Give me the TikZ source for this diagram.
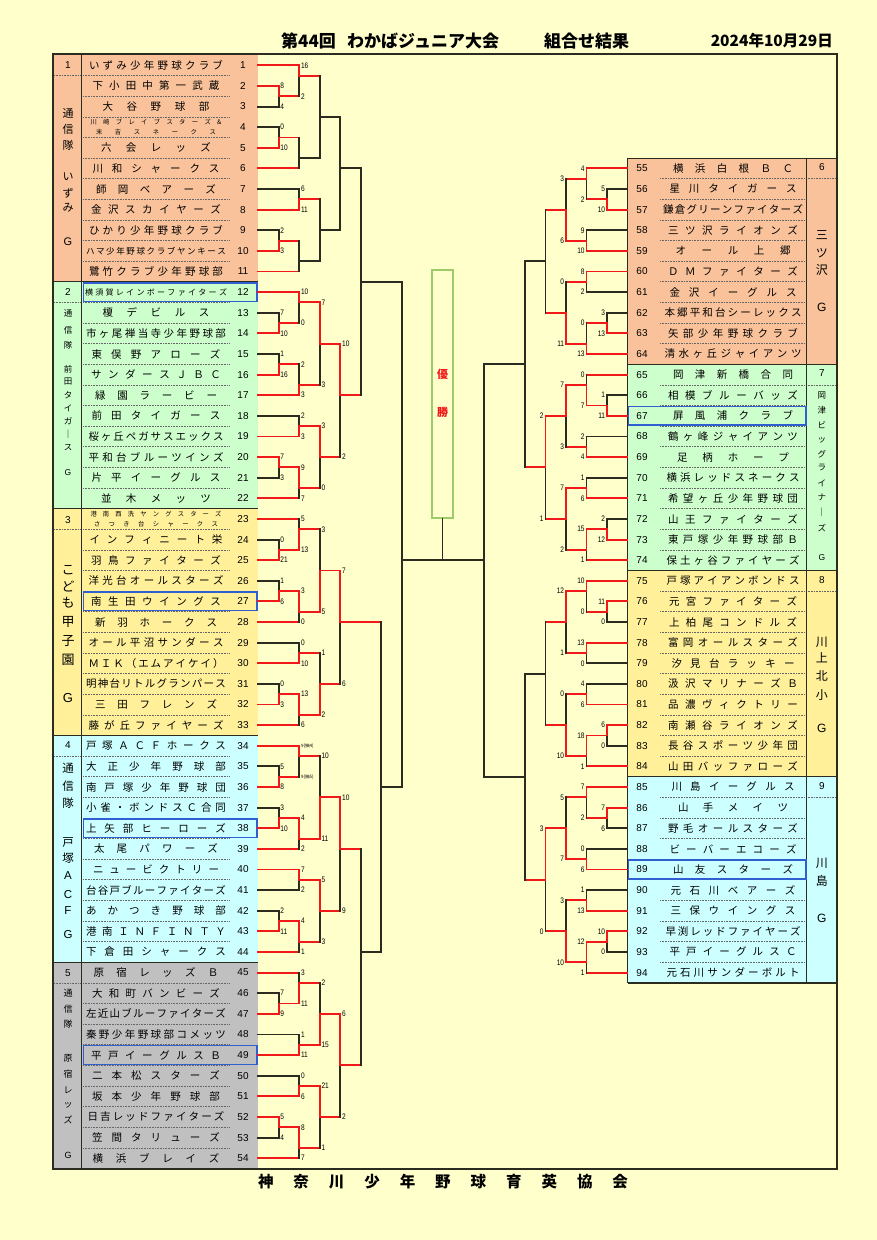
\documentclass[tikz,border=0pt]{standalone}
\usepackage{fontspec}
\setmainfont{Noto Sans CJK JP}
\newfontfamily\lat{Liberation Sans}
\newfontfamily\scf{Liberation Sans}[FakeStretch=0.82]
\definecolor{bg}{HTML}{FFFFCC}
\definecolor{peach}{HTML}{F9C29A}
\definecolor{mint}{HTML}{CCFFCC}
\definecolor{yel}{HTML}{FFF099}
\definecolor{cyn}{HTML}{CCFFFF}
\definecolor{gry}{HTML}{C0C0C0}
\definecolor{wred}{HTML}{F01818}
\definecolor{dk}{HTML}{2B2B20}
\definecolor{hbl}{HTML}{2F5FD0}
\definecolor{boxg}{HTML}{9BCB6B}
\newcounter{lb}
\makeatletter
\newcommand\dist[2]{\makebox[#1][c]{\dist@a#2\dist@end}}
\def\dist@end{\dist@end}
\def\dist@a#1#2{#1\ifx#2\dist@end\else\hfill\expandafter\dist@a\expandafter#2\fi}
\makeatother
\newcommand\Y[1]{55+10.31*(#1)}
% match core: ktop kbot kout stop sbot w anchor shift
\newcommand\Mcore[8]{%
 \pgfmathsetmacro\ya{55+10.31*(#1)}%
 \pgfmathsetmacro\yb{55+10.31*(#2)}%
 \pgfmathsetmacro\yo{55+10.31*(#3)}%
 \pgfmathsetmacro\xs{\xa+(#8)}%
 \if#6t\draw[bl](\xa,\yo)--(\xa,\yb);\draw[rl](\xa,\ya)--(\xa,\yo);\draw[rl](\xa,\yo)--(\xb,\yo);\fi
 \if#6b\draw[bl](\xa,\ya)--(\xa,\yo);\draw[rl](\xa,\yo)--(\xa,\yb);\draw[rl](\xa,\yo)--(\xb,\yo);\fi
 \if#6n\draw[bl](\xa,\ya)--(\xa,\yb);\draw[bl](\xa,\yo)--(\xb,\yo);\fi
 \stepcounter{lb}\node[sc,anchor=#7] (s\thelb) at (\xs,\ya) {#4};%
 \stepcounter{lb}\node[sc,anchor=#7] (s\thelb) at (\xs,\yb) {#5};%
}
\newcommand\LM[8]{\pgfmathsetmacro\xa{258+20.55*(#1)}\pgfmathsetmacro\xb{258+20.55*(#5)}\Mcore{#2}{#3}{#4}{#6}{#7}{#8}{west}{1.4}}
\newcommand\RM[8]{\pgfmathsetmacro\xa{627.5-20.5*(#1)}\pgfmathsetmacro\xb{627.5-20.5*(#5)}\Mcore{#2}{#3}{#4}{#6}{#7}{#8}{east}{-1.4}}
% team lines
\newcommand\LT[3]{\pgfmathsetmacro\xa{258+20.55*(#2)}\pgfmathsetmacro\ya{55+10.31*(2*#1-1)}\draw[#3](258,\ya)--(\xa,\ya);}
\newcommand\RT[3]{\pgfmathsetmacro\xa{627.5-20.5*(#2)}\pgfmathsetmacro\ya{55+10.31*(11+2*(#1-55))}\draw[#3](627.5,\ya)--(\xa,\ya);}
% team names
\newcommand\LN[4][10.5]{\pgfmathsetmacro\ya{55+10.31*(2*#2-1)}%
 \node[nm,font=\fontsize{#1}{#1}\selectfont] (n#2) at (156,\ya) {\dist{#3pt}{#4}};%
 \node[num] (k#2) at (243,\ya) {#2};}
\newcommand\RN[4][10.5]{\pgfmathsetmacro\ya{55+10.31*(11+2*(#2-55))}%
 \node[nm,font=\fontsize{#1}{#1}\selectfont] (n#2) at (733,\ya) {\dist{#3pt}{#4}};%
 \node[num] (k#2) at (642,\ya) {#2};}
\begin{document}
\begin{tikzpicture}[x=1pt,y=-1pt,
 rl/.style={draw=wred,line width=1.9pt,line cap=rect},
 bl/.style={draw=dk,line width=1.9pt,line cap=rect},
 sc/.style={font=\scf\fontsize{8}{8}\selectfont,inner sep=0.3pt},
 nm/.style={inner sep=0pt},
 num/.style={font=\lat\fontsize{10}{10}\selectfont,inner sep=0pt},
 gl/.style={inner sep=0pt},
 dotl/.style={draw=black!60,line width=0.7pt,dash pattern=on 0.7pt off 0.9pt},
 sep/.style={draw=dk,line width=1.2pt},
 hb/.style={draw=hbl,line width=1.4pt},
 ttl/.style={font=\fontsize{17}{17}\selectfont\bfseries,inner sep=0pt}]
\useasboundingbox (0,0) rectangle (877,1240);
\fill[bg] (0,0) rectangle (877,1240);
% ---------- fills
\fill[peach] (53,55) rectangle (258,{\Y{22}});
\fill[mint] (53,{\Y{22}}) rectangle (258,{\Y{44}});
\fill[yel] (53,{\Y{44}}) rectangle (258,{\Y{66}});
\fill[cyn] (53,{\Y{66}}) rectangle (258,{\Y{88}});
\fill[gry] (53,{\Y{88}}) rectangle (258,{\Y{108}});
\fill[peach] (627.5,{\Y{10}}) rectangle (837,{\Y{30}});
\fill[mint] (627.5,{\Y{30}}) rectangle (837,{\Y{50}});
\fill[yel] (627.5,{\Y{50}}) rectangle (837,{\Y{70}});
\fill[cyn] (627.5,{\Y{70}}) rectangle (837,{\Y{90}});
% ---------- dotted row lines
\foreach \i in {1,...,10,12,13,...,21,23,24,...,32,34,35,...,43,45,46,...,53}
  \draw[dotl] (83,{\Y{2*\i}}) -- (230,{\Y{2*\i}});
\foreach \i in {55,...,63,65,66,...,73,75,76,...,83,85,86,...,93}
  \draw[dotl] (660,{\Y{12+2*(\i-55)}}) -- (805,{\Y{12+2*(\i-55)}});
\foreach \k in {2,24,46,68,90}
  \draw[dotl] (54,{\Y{\k}}) -- (81,{\Y{\k}});
\foreach \k in {12,32,52,72}
  \draw[dotl] (807.5,{\Y{\k}}) -- (836,{\Y{\k}});
% ---------- separators and frame
\foreach \k in {22,44,66,88}
  \draw[sep] (53,{\Y{\k}}) -- (258,{\Y{\k}});
\foreach \k in {10,30,50,70,90}
  \draw[sep] (627.5,{\Y{\k}}) -- (837,{\Y{\k}});
\draw[sep] (81.5,55) -- (81.5,{\Y{108}});
\draw[sep] (627.5,{\Y{10}}) -- (627.5,{\Y{90}});
\draw[sep] (806.7,{\Y{10}}) -- (806.7,{\Y{90}});
\draw[sep] (53,54) rectangle (837,1169);
% ---------- highlight boxes
\foreach \i in {12,27,38,49}
  \draw[hb] (83.5,{\Y{2*\i-2}+1}) rectangle (257,{\Y{2*\i}-1});
\foreach \i in {67,89}
  \draw[hb] (628.5,{\Y{10+2*(\i-55)}+1}) rectangle (806,{\Y{12+2*(\i-55)}-1});
% ---------- titles
\node[ttl,anchor=west] (t1) at (281,41) {第44回};
\node[ttl,anchor=west] (t2) at (347,41) {わかばジュニア大会};
\node[ttl,anchor=west] (t3) at (544,41) {組合せ結果};
\node[ttl,font=\fontsize{15.5}{15.5}\selectfont\bfseries,anchor=east] (t4) at (833,41) {2024年10月29日};
\node[ttl,font=\fontsize{15.5}{15.5}\selectfont\bfseries] (t5) at (443,1182) {\dist{370pt}{神奈川少年野球育英協会}};
% ---------- group labels
\foreach \n/\y in {1/65.3,2/291.9,3/519.6,4/745.5,5/972.6}
  \node[num] (gn\n) at (68,\y) {\n};
\foreach \n/\y in {6/167.3,7/373.5,8/579.6,9/785.8}
  \node[num] (gn\n) at (821.8,\y) {\n};
\foreach \c/\y [count=\m] in {通/113,信/129,隊/145,い/177,ず/193,み/208,\lat G/242}
  \node[gl,font=\fontsize{11}{11}\selectfont] (ga\m) at (68,\y) {\c};
\foreach \c/\y [count=\m] in {通/313,信/330,隊/345,前/369,田/382,タ/395,イ/408,ガ/421,｜/434,ス/448,\lat G/473}
  \node[gl,font=\fontsize{8.5}{8.5}\selectfont] (gb\m) at (68,\y) {\c};
\foreach \c/\y [count=\m] in {こ/570,ど/586,も/603,甲/622,子/641,園/660,\lat G/698}
  \node[gl,font=\fontsize{13}{13}\selectfont] (gc\m) at (68,\y) {\c};
\foreach \c/\y [count=\m] in {通/768,信/786,隊/803,戸/842,塚/858,\lat A/876,\lat C/895,\lat F/911,\lat G/935}
  \node[gl,font=\fontsize{11.5}{11.5}\selectfont] (gd\m) at (68,\y) {\c};
\foreach \c/\y [count=\m] in {通/993,信/1009,隊/1024,原/1058,宿/1074,レ/1090,ッ/1105,ズ/1120,\lat G/1155}
  \node[gl,font=\fontsize{9}{9}\selectfont] (ge\m) at (68,\y) {\c};
\foreach \c/\y [count=\m] in {三/235,ツ/253,沢/270,\lat G/307}
  \node[gl,font=\fontsize{12}{12}\selectfont] (gf\m) at (821.8,\y) {\c};
\foreach \c/\y [count=\m] in {岡/395,津/410,ビ/425,ッ/440,グ/454,ラ/468,イ/483,ナ/497,｜/512,ズ/528,\lat G/558}
  \node[gl,font=\fontsize{8.5}{8.5}\selectfont] (gg\m) at (821.8,\y) {\c};
\foreach \c/\y [count=\m] in {川/642,上/658,北/676,小/695,\lat G/728}
  \node[gl,font=\fontsize{12}{12}\selectfont] (gh\m) at (821.8,\y) {\c};
\foreach \c/\y [count=\m] in {川/863,島/881,\lat G/918}
  \node[gl,font=\fontsize{12}{12}\selectfont] (gi\m) at (821.8,\y) {\c};
% ---------- team names left
\LN{1}{134}{いずみ少年野球クラブ}
\LN{2}{127}{下小田中第一武蔵}
\LN{3}{107}{大谷野球部}
\node[nm,font=\fontsize{6.3}{9.5}\selectfont,align=center] (n4) at (156,{\Y{7}}) {\dist{131pt}{川崎ブレイブスターズ\&}\\\dist{120pt}{末吉スネークス}};
\node[num] (k4) at (243,{\Y{7}}) {4};
\LN{5}{110}{六会レッズ}
\LN{6}{127}{川和シャークス}
\LN{7}{120}{師岡ベアーズ}
\LN{8}{130}{金沢スカイヤーズ}
\LN{9}{134}{ひかり少年野球クラブ}
\LN[8.5]{10}{140}{ハマ少年野球クラブヤンキース}
\LN{11}{134}{鷺竹クラブ少年野球部}
\LN[8]{12}{142}{横須賀レインボーファイターズ}
\LN{13}{107}{榎デビルス}
\LN{14}{140}{市ヶ尾禅当寺少年野球部}
\LN{15}{129}{東俣野アローズ}
\LN{16}{130}{サンダースＪＢＣ}
\LN{17}{122}{緑園ラービー}
\LN{18}{129}{前田タイガース}
\LN{19}{135}{桜ヶ丘ペガサスエックス}
\LN{20}{135}{平和台ブルーツインズ}
\LN{21}{129}{片平イーグルス}
\LN{22}{110}{並木メッツ}
\node[nm,font=\fontsize{6.3}{9.5}\selectfont,align=center] (n23) at (156,{\Y{45}}) {\dist{131pt}{港南西洗ヤングスターズ}\\\dist{124pt}{さつき台シャークス}};
\node[num] (k23) at (243,{\Y{45}}) {23};
\LN{24}{133}{インフィニート栄}
\LN{25}{130}{羽鳥ファイターズ}
\LN{26}{135}{洋光台オールスターズ}
\LN{27}{130}{南生田ウイングス}
\LN{28}{122}{新羽ホークス}
\LN{29}{135}{オール平沼サンダース}
\LN{30}{135}{ＭＩＫ（エムアイケイ）}
\LN{31}{140}{明神台リトルグランパース}
\LN{32}{122}{三田フレンズ}
\LN{33}{135}{藤が丘ファイヤーズ}
\LN{34}{140}{戸塚ＡＣＦホークス}
\LN{35}{140}{大正少年野球部}
\LN{36}{140}{南戸塚少年野球団}
\LN{37}{140}{小雀・ボンドスＣ合同}
\LN{38}{140}{上矢部ヒーローズ}
\LN{39}{124}{太尾パワーズ}
\LN{40}{126}{ニュービクトリー}
\LN{41}{140}{台谷戸ブルーファイターズ}
\LN{42}{140}{あかつき野球部}
\LN{43}{140}{港南ＩＮＦＩＮＴＹ}
\LN{44}{140}{下倉田シャークス}
\LN{45}{125}{原宿レッズＢ}
\LN{46}{128}{大和町バンビーズ}
\LN{47}{140}{左近山ブルーファイターズ}
\LN{48}{140}{秦野少年野球部コメッツ}
\LN{49}{130}{平戸イーグルスＢ}
\LN{50}{128}{二本松スターズ}
\LN{51}{128}{坂本少年野球部}
\LN{52}{137}{日吉レッドファイターズ}
\LN{53}{128}{笠間タリューズ}
\LN{54}{127}{横浜ブレイズ}
% ---------- team names right
\RN{55}{120}{横浜白根ＢＣ}
\RN{56}{127}{星川タイガース}
\RN{57}{140}{鎌倉グリーンファイターズ}
\RN{58}{130}{三ツ沢ライオンズ}
\RN{59}{115}{オール上郷}
\RN{60}{130}{ＤＭファイターズ}
\RN{61}{127}{金沢イーグルス}
\RN{62}{137}{本郷平和台シーレックス}
\RN{63}{130}{矢部少年野球クラブ}
\RN{64}{137}{清水ヶ丘ジャイアンツ}
\RN{65}{120}{岡津新橋合同}
\RN{66}{130}{相模ブルーバッズ}
\RN{67}{120}{屏風浦クラブ}
\RN{68}{130}{鶴ヶ峰ジャイアンツ}
\RN{69}{112}{足柄ホープ}
\RN{70}{133}{横浜レッドスネークス}
\RN{71}{130}{希望ヶ丘少年野球団}
\RN{72}{130}{山王ファイターズ}
\RN{73}{130}{東戸塚少年野球部Ｂ}
\RN{74}{133}{保土ヶ谷ファイヤーズ}
\RN{75}{133}{戸塚アイアンボンドス}
\RN{76}{128}{元宮ファイターズ}
\RN{77}{128}{上柏尾コンドルズ}
\RN{78}{130}{富岡オールスターズ}
\RN{79}{123}{汐見台ラッキー}
\RN{80}{130}{汲沢マリナーズＢ}
\RN{81}{130}{品濃ヴィクトリー}
\RN{82}{130}{南瀬谷ライオンズ}
\RN{83}{130}{長谷スポーツ少年団}
\RN{84}{130}{山田バッファローズ}
\RN{85}{123}{川島イーグルス}
\RN{86}{110}{山手メイツ}
\RN{87}{130}{野毛オールスターズ}
\RN{88}{127}{ビーバーエコーズ}
\RN{89}{120}{山友スターズ}
\RN{90}{125}{元石川ベアーズ}
\RN{91}{125}{三保ウイングス}
\RN{92}{135}{早渕レッドファイヤーズ}
\RN{93}{127}{平戸イーグルスＣ}
\RN{94}{133}{元石川サンダーボルト}
% ---------- left team lines
\LT{1}{2}{rl}\LT{2}{1}{rl}\LT{3}{1}{bl}\LT{4}{1}{bl}\LT{5}{1}{rl}\LT{6}{2}{rl}
\LT{7}{2}{bl}\LT{8}{2}{rl}\LT{9}{1}{bl}\LT{10}{1}{rl}\LT{11}{2}{rl}
\LT{12}{2}{rl}\LT{13}{1}{bl}\LT{14}{1}{rl}\LT{15}{1}{bl}\LT{16}{1}{rl}\LT{17}{2}{rl}
\LT{18}{2}{bl}\LT{19}{2}{rl}\LT{20}{1}{rl}\LT{21}{1}{bl}\LT{22}{2}{rl}
\LT{23}{2}{rl}\LT{24}{1}{bl}\LT{25}{1}{rl}\LT{26}{1}{bl}\LT{27}{1}{rl}\LT{28}{2}{rl}
\LT{29}{2}{bl}\LT{30}{2}{rl}\LT{31}{1}{bl}\LT{32}{1}{rl}\LT{33}{2}{rl}
\LT{34}{2}{rl}\LT{35}{1}{bl}\LT{36}{1}{rl}\LT{37}{1}{bl}\LT{38}{1}{rl}\LT{39}{2}{rl}
\LT{40}{2}{rl}\LT{41}{2}{bl}\LT{42}{1}{bl}\LT{43}{1}{rl}\LT{44}{2}{rl}
\LT{45}{2}{rl}\LT{46}{1}{bl}\LT{47}{1}{rl}\LT{48}{2}{bl}\LT{49}{2}{rl}
\LT{50}{2}{bl}\LT{51}{2}{rl}\LT{52}{1}{rl}\LT{53}{1}{bl}\LT{54}{2}{rl}
% ---------- left matches
\LM{1}{3}{5}{4}{2}{8}{4}{t}
\LM{2}{1}{4}{2}{3}{16}{2}{t}
\LM{1}{7}{9}{8}{2}{0}{10}{b}
\LM{2}{8}{11}{10}{3}{}{}{n}
\LM{3}{2}{10}{6}{4}{}{}{n}
\LM{2}{13}{15}{14}{3}{6}{11}{b}
\LM{1}{17}{19}{18}{2}{2}{3}{b}
\LM{2}{18}{21}{20}{3}{}{}{n}
\LM{3}{14}{20}{17}{4}{}{}{n}
\LM{4}{6}{17}{11}{5}{}{}{n}
\LM{1}{25}{27}{26}{2}{7}{10}{b}
\LM{2}{23}{26}{24}{3}{10}{0}{t}
\LM{1}{29}{31}{30}{2}{1}{16}{b}
\LM{2}{30}{33}{32}{3}{2}{3}{b}
\LM{3}{24}{32}{28}{4}{7}{3}{t}
\LM{2}{35}{37}{36}{3}{2}{3}{b}
\LM{1}{39}{41}{40}{2}{7}{3}{t}
\LM{2}{40}{43}{42}{3}{9}{7}{t}
\LM{3}{36}{42}{39}{4}{3}{0}{t}
\LM{4}{28}{39}{33}{5}{10}{2}{t}
\LM{1}{47}{49}{48}{2}{0}{21}{b}
\LM{2}{45}{48}{46}{3}{5}{13}{b}
\LM{1}{51}{53}{52}{2}{1}{6}{b}
\LM{2}{52}{55}{54}{3}{3}{0}{t}
\LM{3}{46}{54}{50}{4}{3}{5}{b}
\LM{2}{57}{59}{58}{3}{0}{10}{b}
\LM{1}{61}{63}{62}{2}{0}{3}{b}
\LM{2}{62}{65}{64}{3}{13}{6}{t}
\LM{3}{58}{64}{61}{4}{1}{2}{b}
\LM{4}{50}{61}{55}{6}{7}{6}{t}
\LM{1}{69}{71}{70}{2}{5}{8}{b}
\LM{2}{67}{70}{68}{3}{{\normalfont\fontsize{4.5}{5}\selectfont 9(抽4)}}{{\normalfont\fontsize{4.5}{5}\selectfont 9(抽5)}}{t}
\LM{1}{73}{75}{74}{2}{3}{10}{b}
\LM{2}{74}{77}{76}{3}{4}{2}{t}
\LM{3}{68}{76}{72}{4}{10}{11}{b}
\LM{2}{79}{81}{80}{3}{7}{2}{t}
\LM{1}{83}{85}{84}{2}{2}{11}{b}
\LM{2}{84}{87}{86}{3}{4}{1}{t}
\LM{3}{80}{86}{83}{4}{5}{3}{t}
\LM{4}{72}{83}{77}{5}{10}{9}{t}
\LM{1}{91}{93}{92}{2}{7}{9}{b}
\LM{2}{89}{92}{90}{3}{3}{11}{b}
\LM{2}{95}{97}{96}{3}{1}{11}{b}
\LM{3}{90}{96}{93}{4}{2}{15}{b}
\LM{2}{99}{101}{100}{3}{0}{6}{b}
\LM{1}{103}{105}{104}{2}{5}{4}{t}
\LM{2}{104}{107}{106}{3}{8}{7}{t}
\LM{3}{100}{106}{103}{4}{21}{1}{t}
\LM{4}{93}{103}{98}{5}{6}{2}{t}
\LM{5}{77}{98}{87}{6}{}{}{n}
\LM{6}{55}{87}{71}{7}{}{}{n}
\LM{5}{11}{33}{22}{7}{}{}{n}
% ---------- right team lines
\RT{55}{2}{rl}\RT{56}{1}{bl}\RT{57}{1}{rl}\RT{58}{2}{bl}\RT{59}{2}{rl}
\RT{60}{2}{rl}\RT{61}{2}{bl}\RT{62}{1}{bl}\RT{63}{1}{rl}\RT{64}{2}{rl}
\RT{65}{2}{rl}\RT{66}{1}{bl}\RT{67}{1}{rl}\RT{68}{2}{bl}\RT{69}{2}{rl}
\RT{70}{2}{bl}\RT{71}{2}{rl}\RT{72}{1}{bl}\RT{73}{1}{rl}\RT{74}{2}{rl}
\RT{75}{2}{rl}\RT{76}{1}{rl}\RT{77}{1}{bl}\RT{78}{2}{rl}\RT{79}{2}{bl}
\RT{80}{2}{bl}\RT{81}{2}{rl}\RT{82}{1}{rl}\RT{83}{1}{bl}\RT{84}{2}{rl}
\RT{85}{2}{rl}\RT{86}{1}{rl}\RT{87}{1}{bl}\RT{88}{2}{bl}\RT{89}{2}{rl}
\RT{90}{2}{bl}\RT{91}{2}{rl}\RT{92}{1}{rl}\RT{93}{1}{bl}\RT{94}{2}{rl}
% ---------- right matches
\RM{1}{13}{15}{14}{2}{5}{10}{b}
\RM{2}{11}{14}{12}{3}{4}{2}{t}
\RM{2}{17}{19}{18}{3}{9}{10}{b}
\RM{3}{12}{18}{15}{4}{3}{6}{b}
\RM{2}{21}{23}{22}{3}{8}{2}{t}
\RM{1}{25}{27}{26}{2}{3}{13}{b}
\RM{2}{26}{29}{28}{3}{0}{13}{b}
\RM{3}{22}{28}{25}{4}{0}{11}{b}
\RM{4}{15}{25}{20}{5}{}{}{n}
\RM{1}{33}{35}{34}{2}{1}{11}{b}
\RM{2}{31}{34}{32}{3}{0}{7}{b}
\RM{2}{37}{39}{38}{3}{2}{4}{b}
\RM{3}{32}{38}{35}{4}{7}{3}{t}
\RM{2}{41}{43}{42}{3}{1}{6}{b}
\RM{1}{45}{47}{46}{2}{2}{12}{b}
\RM{2}{46}{49}{48}{3}{15}{1}{t}
\RM{3}{42}{48}{45}{4}{7}{2}{t}
\RM{4}{35}{45}{40}{5}{2}{1}{t}
\RM{1}{53}{55}{54}{2}{11}{0}{t}
\RM{2}{51}{54}{52}{3}{10}{0}{t}
\RM{2}{57}{59}{58}{3}{13}{0}{t}
\RM{3}{52}{58}{55}{4}{12}{1}{t}
\RM{2}{61}{63}{62}{3}{4}{6}{b}
\RM{1}{65}{67}{66}{2}{6}{0}{t}
\RM{2}{66}{69}{68}{3}{18}{1}{t}
\RM{3}{62}{68}{65}{4}{0}{10}{b}
\RM{4}{55}{65}{60}{5}{}{}{n}
\RM{1}{73}{75}{74}{2}{7}{6}{t}
\RM{2}{71}{74}{72}{3}{7}{2}{t}
\RM{2}{77}{79}{78}{3}{0}{6}{b}
\RM{3}{72}{78}{75}{4}{5}{7}{b}
\RM{2}{81}{83}{82}{3}{1}{13}{b}
\RM{1}{85}{87}{86}{2}{10}{0}{t}
\RM{2}{86}{89}{88}{3}{12}{1}{t}
\RM{3}{82}{88}{85}{4}{3}{10}{b}
\RM{4}{75}{85}{80}{5}{3}{0}{t}
\RM{5}{20}{40}{30}{7}{}{}{n}
\RM{5}{60}{80}{70}{7}{}{}{n}
% ---------- final
\coordinate (fl1) at (401.9,{\Y{22}});
\coordinate (fl2) at (401.9,{\Y{71}});
\coordinate (fr1) at (484,{\Y{30}});
\coordinate (fr2) at (484,{\Y{70}});
\coordinate (fm1) at (401.9,{\Y{49}});
\coordinate (fm2) at (484,{\Y{49}});
\coordinate (fs) at (442.5,{\Y{49}});
\draw[bl] (fl1) -- (fl2);
\draw[bl] (fr1) -- (fr2);
\draw[bl] (fm1) -- (fm2);
\node[draw=boxg,line width=1.2pt,minimum width=21pt,minimum height=248pt,inner sep=0pt] (win) at (442.5,394) {};
\node[font=\fontsize{11}{11}\selectfont\bfseries,text=wred,inner sep=0pt] (w1) at (442.5,374) {優};
\node[font=\fontsize{11}{11}\selectfont\bfseries,text=wred,inner sep=0pt] (w2) at (442.5,412) {勝};
\draw[bl] (win.south) -- (fs);
\end{tikzpicture}
\end{document}
